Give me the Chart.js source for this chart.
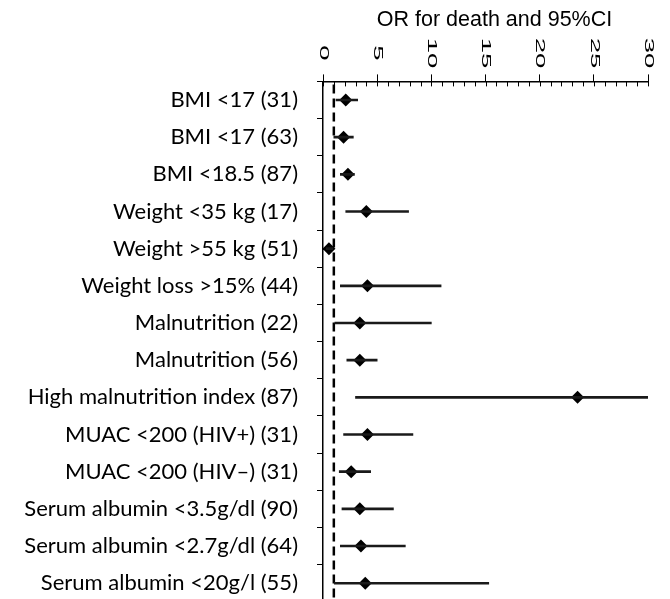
<!DOCTYPE html>
<html>
<head>
<meta charset="utf-8">
<script src="https://cdn.jsdelivr.net/npm/chart.js@4"></script>
<style>
  html, body { margin: 0; padding: 0; background: #fff; overflow: hidden; }
</style>
</head>
<body>
<canvas id="forest-chart" width="670" height="634"></canvas>
<script>
const rowLabels = [
  "BMI <17 (31)",
  "BMI <17 (63)",
  "BMI <18.5 (87)",
  "Weight <35 kg (17)",
  "Weight >55 kg (51)",
  "Weight loss >15% (44)",
  "Malnutrition (22)",
  "Malnutrition (56)",
  "High malnutrition index (87)",
  "MUAC <200 (HIV+) (31)",
  "MUAC <200 (HIV\u2013) (31)",
  "Serum albumin <3.5g/dl (90)",
  "Serum albumin <2.7g/dl (64)",
  "Serum albumin <20g/l (55)",
];
const oddsRatio = [2.1, 1.9, 2.3, 4.0, 0.55, 4.1, 3.4, 3.4, 23.5, 4.1, 2.6, 3.4, 3.5, 3.9];
const ciLow = [1.2, 1.0, 1.6, 2.1, 0.3, 1.6, 1.1, 2.2, 3.0, 1.9, 1.5, 1.75, 1.6, 1.05];
const ciHigh = [3.2, 2.8, 2.9, 7.9, 0.9, 10.9, 10.0, 5.0, 30, 8.3, 4.4, 6.5, 7.6, 15.3];
const xTickLabels = [0, 5, 10, 15, 20, 25, 30];
const axisTitle = "OR for death and 95%CI";
const refLine = 1;

// dashed line at OR = 1, inner ticks, rotated tick labels and title of the top axis
const forestDecor = {
  id: "forestDecor",
  beforeDatasetsDraw(chart) {
    const { ctx, chartArea, scales } = chart;
    const x = scales.x.getPixelForValue(refLine);
    ctx.save();
    ctx.strokeStyle = "#000";
    ctx.lineWidth = 2.5;
    ctx.setLineDash([9, 5]);
    ctx.beginPath();
    ctx.moveTo(x, chartArea.top + 3);
    ctx.lineTo(x, chartArea.bottom);
    ctx.stroke();
    ctx.restore();
  },
  afterDraw(chart) {
    const { ctx, chartArea, scales } = chart;
    const xs = scales.x;
    ctx.save();
    ctx.strokeStyle = "#000";
    ctx.lineWidth = 1;
    ctx.beginPath();
    xs.ticks.forEach((t) => {
      const px = Math.round(xs.getPixelForValue(t.value)) + 0.5;
      ctx.moveTo(px, chartArea.top);
      ctx.lineTo(px, chartArea.top + 5);
    });
    ctx.stroke();

    ctx.fillStyle = "#000";
    ctx.font = "12px 'Liberation Sans', Arial, sans-serif";
    ctx.textAlign = "center";
    ctx.textBaseline = "middle";
    xTickLabels.forEach((v) => {
      ctx.save();
      ctx.translate(xs.getPixelForValue(v), 53);
      ctx.rotate(Math.PI / 2);
      ctx.scale(2.3, 1);
      ctx.fillText(String(v), 0, 0);
      ctx.restore();
    });

    ctx.font = "21.5px 'Liberation Sans', Arial, sans-serif";
    ctx.fillText(axisTitle, (chartArea.left + chartArea.right) / 2 + 9, 20);
    ctx.restore();
  },
};

new Chart(document.getElementById("forest-chart"), {
  data: {
    labels: rowLabels,
    datasets: [
      {
        type: "bar",
        label: "95% CI",
        indexAxis: "y",
        data: ciLow.map((lo, i) => [lo, ciHigh[i]]),
        backgroundColor: "#1a1a1a",
        borderWidth: 0,
        barThickness: 2,
      },
      {
        type: "line",
        label: "OR",
        indexAxis: "y",
        data: oddsRatio,
        showLine: false,
        pointStyle: "rectRot",
        pointRadius: 6.5,
        pointHoverRadius: 6.5,
        backgroundColor: "#000",
        borderColor: "#000",
        pointBorderWidth: 0,
      },
    ],
  },
  options: {
    indexAxis: "y",
    responsive: false,
    animation: false,
    layout: {
      padding: { top: 0, right: 22, bottom: 0, left: 0 },
    },
    plugins: {
      legend: { display: false },
      tooltip: { enabled: false },
    },
    scales: {
      x: {
        type: "linear",
        position: "top",
        min: 0,
        max: 30,
        afterFit: (scale) => {
          scale.height = 81.4;
        },
        border: { display: true, color: "#000", width: 1.5 },
        grid: {
          drawOnChartArea: false,
          drawTicks: true,
          tickLength: 7,
          color: (c) =>
            c.tick && c.tick.value % 5 === 0 ? "#000" : "rgba(0,0,0,0)",
        },
        ticks: {
          display: false,
          stepSize: 1,
        },
      },
      y: {
        type: "category",
        offset: true,
        afterFit: (scale) => {
          scale.width = 323;
        },
        border: { display: true, color: "#000", width: 1.5 },
        grid: {
          offset: true,
          drawOnChartArea: false,
          tickLength: 6,
          color: "#000",
        },
        ticks: {
          color: "#000",
          padding: 19,
          font: { family: "Lato, 'Open Sans', sans-serif", size: 22 },
        },
      },
    },
  },
  plugins: [forestDecor],
});
</script>
</body>
</html>
